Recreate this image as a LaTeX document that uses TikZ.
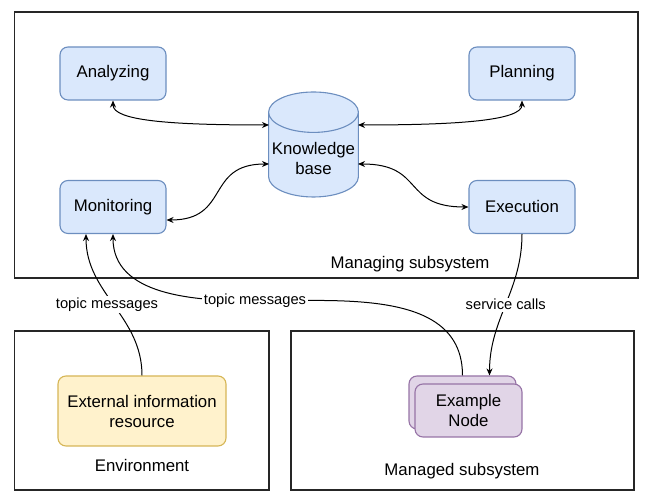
\documentclass[tikz,border=0pt]{standalone}
\usepackage{fontspec}
\setmainfont{Liberation Sans}
\usetikzlibrary{shapes.geometric,arrows.meta,calc,positioning}
\definecolor{blueFill}{HTML}{DAE8FC}
\definecolor{blueLine}{HTML}{6C8EBF}
\definecolor{yellowFill}{HTML}{FFF2CC}
\definecolor{yellowLine}{HTML}{D6B656}
\definecolor{purpleFill}{HTML}{E1D5E7}
\definecolor{purpleLine}{HTML}{9673A6}
\newcommand{\boxfont}{\fontsize{16.8}{20}\selectfont}
\newcommand{\edgefont}{\fontsize{14.7}{17}\selectfont}

\begin{document}
\begin{tikzpicture}[x=1pt, y=1pt,
    >={Stealth[length=7pt,width=6pt]},
    every node/.style={font=\boxfont},
    frame/.style={draw=black!85, line width=1.1pt},
    component/.style={draw=blueLine, fill=blueFill, line width=1.1pt,
        rounded corners=8pt, minimum width=106pt, minimum height=53pt},
    link/.style={line width=1pt},
    msglabel/.style={font=\edgefont, fill=white, inner sep=1.5pt}]
	\useasboundingbox (0,0) rectangle (645,497);
	% The frames:
	\draw[frame] (14.5,219) rectangle (638,485);
	\draw[frame] (14.5,7) rectangle (269,166);
	\draw[frame] (291,7) rectangle (634,166);
	\node (managing) at (410,233) {Managing subsystem};
	\node (environment) at (142,32) {Environment};
	\node (managed) at (462,26) {Managed subsystem};
	% MAPE-K loop:
	\node[component] (ana) at (113,423.5) {Analyzing};
	\node[component] (pla) at (522,423.5) {Planning};
	\node[component] (mon) at (113,290) {Monitoring};
	\node[component] (exe) at (522,290) {Execution};
	\node[cylinder, shape border rotate=90, aspect=0.45, draw=blueLine, fill=blueFill,
	      line width=1.1pt, minimum width=89pt, minimum height=105pt, align=center,
	      anchor=shape center] (kb) at (313.5,352.5) {Knowledge\\base};
	% Environment and managed node:
	\node[draw=yellowLine, fill=yellowFill, line width=1.1pt, rounded corners=8pt,
	      minimum width=168pt, minimum height=70pt, align=center]
	      (ext) at (142,86) {External information\\resource};
	\node[draw=purpleLine, fill=purpleFill, line width=1.1pt, rounded corners=8pt,
	      minimum width=107pt, minimum height=53pt] (exback) at (462.5,94.5) {};
	\node[draw=purpleLine, fill=purpleFill, line width=1.1pt, rounded corners=8pt,
	      minimum width=107pt, minimum height=53pt, align=center]
	      (exnode) at (468.5,86.5) {Example\\Node};
	% Knowledge base links
	\draw[link,<->] (ana.south) .. controls +(0,-20) and +(-100,0) .. ($(kb.shape center)+(-44.5,19.5)$);
	\draw[link,<->] (pla.south) .. controls +(0,-20) and +(100,0) .. ($(kb.shape center)+(44.5,19.5)$);
	\draw[link,<->] ($(mon.east)+(0,-13)$) .. controls +(64,0) and +(-64,0) .. ($(kb.shape center)+(-44.5,-19.5)$);
	\draw[link,<->] ($(kb.shape center)+(44.5,-19.5)$) .. controls +(67,0) and +(-67,0) .. (exe.west);
	% Messages and calls
	\draw[link,->] (ext.north) to[out=90,in=-90] node[msglabel, xshift=-7pt] (tmext) {topic messages} ($(mon.south)+(-27,0)$);
	\draw[link,->] (exback.north) to[out=90,in=0] (255,196) node[msglabel] (tmnode) {topic messages}
	      to[out=180,in=-90] (mon.south);
	\draw[link,->] (exe.south) to[out=-90,in=90] node[msglabel] (calls) {service calls} ($(exback.north)+(27,0)$);
\end{tikzpicture}
\end{document}
